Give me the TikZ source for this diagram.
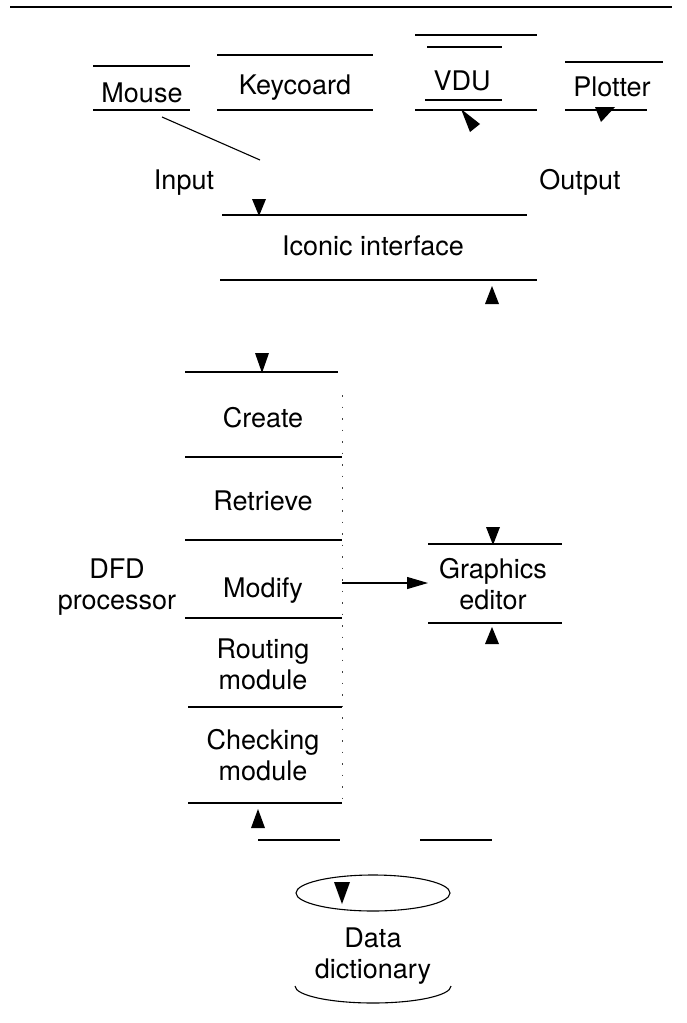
\documentclass[tikz,border=0pt]{standalone}
\usepackage{fontspec}
\setmainfont{TeX Gyre Heros}
\usetikzlibrary{arrows.meta}
\begin{document}
\begin{tikzpicture}[x=1pt,y=-1pt,
  lbl/.style={font=\fontsize{27}{31}\selectfont, inner sep=0pt},
  ml/.style={lbl, align=center},
  rule/.style={line width=1.3pt},
  faint/.style={line width=1pt, dash pattern=on 1.5pt off 10pt, black!75},
  head/.style={fill=black}]
\useasboundingbox (0,0) rectangle (687,1023);

% top rule
\draw[rule] (10,7) -- (672,7);

% Mouse
\draw[rule] (93,66) -- (190,66);
\draw[rule] (93,110) -- (190,110);
\node[lbl,anchor=base] (mouse) at (142,102) {Mouse};
% Keycoard
\draw[rule] (217,55) -- (373,55);
\draw[rule] (217,110) -- (373,110);
\node[lbl,anchor=base] (keyb) at (295,94) {Keycoard};
% VDU
\draw[rule] (415,35) -- (537,35);
\draw[rule] (427,47) -- (502,47);
\draw[rule] (425,100) -- (502,100);
\draw[rule] (415,110) -- (537,110);
\node[lbl,anchor=base] (vdu) at (462,90) {VDU};
\fill[head] (461,109) -- (480,124) -- (470,132) -- cycle;
% Plotter
\draw[rule] (565,62) -- (663,62);
\draw[rule] (565,110) -- (647,110);
\node[lbl,anchor=base] (plot) at (612,96) {Plotter};
\fill[head] (595,107) -- (615,107) -- (601,122) -- cycle;

% mouse line
\coordinate (m1) at (162,117);
\coordinate (m2) at (260,160);
\draw[line width=1.1pt] (m1) -- (m2);

\node[lbl,anchor=base] (input) at (184,189) {Input};
\node[lbl,anchor=base] (output) at (580,189) {Output};

% Iconic interface
\draw[rule] (222,215) -- (527,215);
\draw[rule] (220,280) -- (537,280);
\node[lbl,anchor=base] (iconic) at (373,255) {Iconic interface};
\fill[head] (259,216) -- (252,199) -- (266,199) -- cycle;
\fill[head] (492,286) -- (485,304) -- (499,304) -- cycle;

% DFD processor stack
\draw[rule] (185,372) -- (338,372);
\fill[head] (262,373) -- (255,353) -- (269,353) -- cycle;
\node[lbl,anchor=base] (create) at (263,427) {Create};
\draw[rule] (185,457) -- (342,457);
\node[lbl,anchor=base] (retrieve) at (263,510) {Retrieve};
\draw[rule] (185,540) -- (342,540);
\node[lbl,anchor=base] (modify) at (263,597) {Modify};
\draw[rule] (185,618) -- (342,618);
\node[ml] (routing) at (263,664) {Routing\\module};
\draw[rule] (188,707) -- (342,707);
\node[ml] (checking) at (263,755) {Checking\\module};
\draw[rule] (188,803) -- (342,803);
\draw[faint] (342,395) -- (342,800);
\fill[head] (258,809) -- (251,828) -- (265,828) -- cycle;

\node[ml] (dfd) at (117,587) {DFD\\processor};

% Graphics editor
\draw[rule] (428,544) -- (562,544);
\draw[rule] (428,623) -- (562,623);
\node[ml] (graphics) at (493,584) {Graphics\\editor};
\fill[head] (493,545) -- (486,527) -- (500,527) -- cycle;
\fill[head] (492,627) -- (485,644) -- (499,644) -- cycle;

\coordinate (modR) at (342,583);
\coordinate (geL) at (428,583);
\draw[line width=1.1pt, -{Triangle[length=21pt,width=12pt]}] (modR) -- (geL);

% lower store lines
\draw[rule] (258,840) -- (340,840);
\draw[rule] (420,840) -- (492,840);

% Data dictionary
\draw[line width=1.1pt] (373,893) ellipse [x radius=77, y radius=18];
\fill[head] (342,904) -- (334,882) -- (350,882) -- cycle;
\node[ml] (dd) at (373,956) {Data\\dictionary};
\draw[line width=1.1pt] (451,986) arc[start angle=0, end angle=180, x radius=78, y radius=17];
\end{tikzpicture}
\end{document}
